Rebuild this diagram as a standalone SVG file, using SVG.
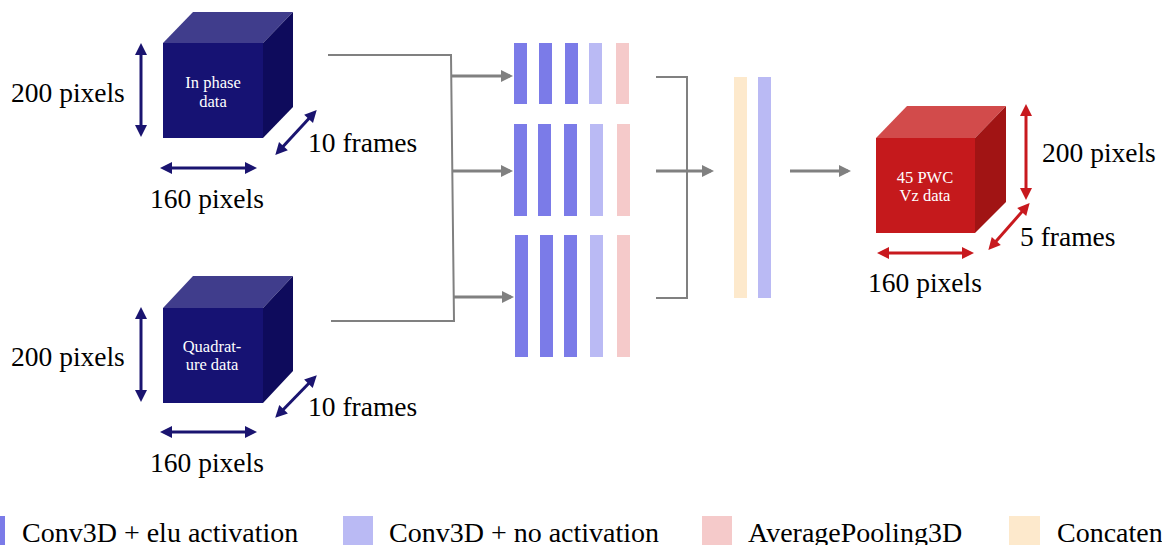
<svg xmlns="http://www.w3.org/2000/svg" width="1162" height="545" viewBox="0 0 1162 545">
<defs>
<style>
.lbl{font-family:"Liberation Serif","Times New Roman",serif;font-size:27.5px;fill:#000}
.lg{font-family:"Liberation Serif","Times New Roman",serif;font-size:28px;fill:#000}
.cl{font-family:"Liberation Serif","Times New Roman",serif;font-size:16.5px;fill:#fff;text-anchor:middle}
.bf{fill:#161273}.bt{fill:#403d8c}.br{fill:#0e0b5c}
.rf{fill:#c5191c}.rt{fill:#d24b4b}.rr{fill:#a11414}
.dk{fill:#7b7be8}.lt{fill:#babaf4}.pk{fill:#f5caca}.pc{fill:#fde9cc}
.dimb{stroke:#1a1470;stroke-width:3;fill:none;marker-start:url(#hb);marker-end:url(#hb)}
.dimr{stroke:#c8191e;stroke-width:3;fill:none;marker-start:url(#hr);marker-end:url(#hr)}
.con{stroke:#808080;stroke-width:2;fill:none}
.arr{stroke:#808080;stroke-width:3;fill:none;marker-end:url(#ha)}
</style>
<marker id="hb" markerUnits="userSpaceOnUse" orient="auto-start-reverse" refX="0" refY="0" markerWidth="20" markerHeight="20" overflow="visible"><path d="M-8,-6 L4,0 L-8,6 z" fill="#1a1470"/></marker>
<marker id="hr" markerUnits="userSpaceOnUse" orient="auto-start-reverse" refX="0" refY="0" markerWidth="20" markerHeight="20" overflow="visible"><path d="M-8,-6 L4,0 L-8,6 z" fill="#c8191e"/></marker>
<marker id="ha" markerUnits="userSpaceOnUse" orient="auto" refX="0" refY="0" markerWidth="20" markerHeight="20" overflow="visible"><path d="M-9,-6 L3,0 L-9,6 z" fill="#808080"/></marker>
</defs>
<rect width="1162" height="545" fill="#fff"/>

<g id="cube-inphase">
<rect class="bf" x="163" y="43" width="100" height="95"/>
<polygon class="bt" points="163,43 193,12 293,12 263,43"/>
<polygon class="br" points="263,43 293,12 293,107 263,138"/>
<text class="cl" x="213" y="88">In phase</text>
<text class="cl" x="213" y="107">data</text>
<path class="dimb" d="M141,47 V133"/>
<path class="dimb" d="M164,168 H253"/>
<path class="dimb" d="M278,152 L314,113"/>
<text class="lbl" x="11" y="102">200 pixels</text>
<text class="lbl" x="207" y="208" text-anchor="middle">160 pixels</text>
<text class="lbl" x="308" y="152">10 frames</text>
</g>

<g id="cube-quadrature">
<rect class="bf" x="163" y="308" width="100" height="95"/>
<polygon class="bt" points="163,308 193,276 293,276 263,308"/>
<polygon class="br" points="263,308 293,276 293,371 263,403"/>
<text class="cl" x="212" y="352">Quadrat-</text>
<text class="cl" x="212" y="370">ure data</text>
<path class="dimb" d="M141,311 V398"/>
<path class="dimb" d="M164,432 H253"/>
<path class="dimb" d="M278,415 L314,378"/>
<text class="lbl" x="11" y="366">200 pixels</text>
<text class="lbl" x="207" y="472" text-anchor="middle">160 pixels</text>
<text class="lbl" x="308" y="416">10 frames</text>
</g>

<g id="branch1">
<rect class="dk" x="514" y="43" width="13" height="61"/>
<rect class="dk" x="539" y="43" width="13" height="61"/>
<rect class="dk" x="565" y="43" width="13" height="61"/>
<rect class="lt" x="589" y="43" width="13" height="61"/>
<rect class="pk" x="616" y="43" width="13" height="61"/>
</g>
<g id="branch2">
<rect class="dk" x="514" y="124" width="13" height="92"/>
<rect class="dk" x="538" y="124" width="13" height="92"/>
<rect class="dk" x="564" y="124" width="13" height="92"/>
<rect class="lt" x="590" y="124" width="13" height="92"/>
<rect class="pk" x="617" y="124" width="13" height="92"/>
</g>
<g id="branch3">
<rect class="dk" x="515" y="235" width="13" height="122"/>
<rect class="dk" x="540" y="235" width="13" height="122"/>
<rect class="dk" x="564" y="235" width="13" height="122"/>
<rect class="lt" x="590" y="235" width="13" height="122"/>
<rect class="pk" x="617" y="235" width="13" height="122"/>
</g>
<g id="merge">
<rect class="pc" x="734" y="77" width="13" height="221"/>
<rect class="lt" x="758" y="77" width="13" height="221"/>
</g>

<g id="cube-output">
<rect class="rf" x="876" y="138" width="99" height="95"/>
<polygon class="rt" points="876,138 907,106 1006,106 975,138"/>
<polygon class="rr" points="975,138 1006,106 1006,202 975,233"/>
<text class="cl" x="925" y="183">45 PWC</text>
<text class="cl" x="925" y="201">Vz data</text>
<path class="dimr" d="M1026,108 V196"/>
<path class="dimr" d="M881,253 H970"/>
<path class="dimr" d="M991,247 L1027,206"/>
<text class="lbl" x="1042" y="162">200 pixels</text>
<text class="lbl" x="1020" y="246">5 frames</text>
<text class="lbl" x="925" y="292" text-anchor="middle">160 pixels</text>
</g>

<g id="connectors">
<path class="con" d="M328,55 H451 L454,321 H331"/>
<path class="arr" d="M452,76 H510"/>
<path class="arr" d="M453,171 H510"/>
<path class="arr" d="M454,297 H511"/>
<path class="con" d="M656,77 H687 V298 H656"/>
<path class="arr" d="M656,171 H711"/>
<path class="arr" d="M790,171 H848"/>
</g>

<g id="legend">
<rect class="dk" x="-25" y="516" width="30" height="30"/>
<text class="lg" x="22" y="542">Conv3D + elu activation</text>
<rect class="lt" x="343" y="516" width="30" height="30"/>
<text class="lg" x="389" y="542">Conv3D + no activation</text>
<rect class="pk" x="702" y="516" width="30" height="30"/>
<text class="lg" x="748" y="542">AveragePooling3D</text>
<rect class="pc" x="1009" y="516" width="31" height="30"/>
<text class="lg" x="1057" y="542">Concatenate</text>
</g>
</svg>
